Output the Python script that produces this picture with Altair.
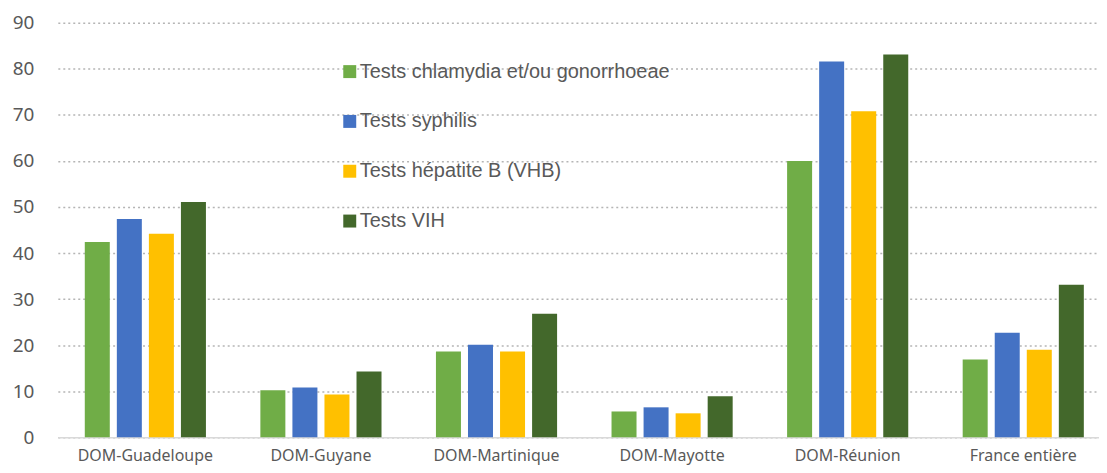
import altair as alt
import pandas as pd

categories = ["DOM-Guadeloupe", "DOM-Guyane", "DOM-Martinique", "DOM-Mayotte", "DOM-Réunion", "France entière"]
series = ["Tests chlamydia et/ou gonorrhoeae", "Tests syphilis", "Tests hépatite B (VHB)", "Tests VIH"]
chlamydia = [42.4, 10.2, 18.6, 5.6, 60.0, 16.9]
syphilis = [47.4, 10.8, 20.1, 6.5, 81.6, 22.7]
vhb = [44.2, 9.3, 18.6, 5.2, 70.8, 19.0]
vih = [51.1, 14.3, 26.8, 8.9, 83.1, 33.1]
colors = ["#70AD47", "#4472C4", "#FFC000", "#43682B"]
y_ticks = [0, 10, 20, 30, 40, 50, 60, 70, 80, 90]

rows = []
for s, vals in zip(series, [chlamydia, syphilis, vhb, vih]):
    for c, v in zip(categories, vals):
        rows.append({"cat": c, "serie": s, "val": v})
df = pd.DataFrame(rows)

chart = alt.Chart(df).mark_bar().encode(
    x=alt.X("cat:N", sort=categories,
            scale=alt.Scale(paddingInner=0.31, paddingOuter=0.12, align=0.64),
            axis=alt.Axis(title=None, labelAngle=0, ticks=False, grid=False,
                          domainColor="#d9d9d9", domainWidth=1.5,
                          labelFont="Noto Sans", labelFontSize=16, labelColor="#595959",
                          labelPadding=10)),
    xOffset=alt.XOffset("serie:N", sort=series,
                        scale=alt.Scale(paddingInner=0.22, paddingOuter=0)),
    y=alt.Y("val:Q", scale=alt.Scale(domain=[0, 90], nice=False),
            axis=alt.Axis(title=None, values=y_ticks, ticks=False, domain=False,
                          gridColor="#b5b5b5", gridDash=[2, 3], gridWidth=1.5,
                          labelFont="Noto Sans", labelFontSize=19, labelColor="#595959",
                          labelPadding=24)),
    color=alt.Color("serie:N", sort=series,
                    scale=alt.Scale(domain=series, range=colors),
                    legend=alt.Legend(title=None, orient="none", legendX=283, legendY=39,
                                      symbolType="square", symbolSize=169, symbolStrokeWidth=0,
                                      labelFont="Liberation Sans", labelFontSize=20,
                                      labelColor="#595959", rowPadding=30, labelOffset=0,
                                      labelLimit=0)),
).properties(
    width=1045, height=416,
    autosize=alt.AutoSizeParams(type="none"),
    padding={"left": 50, "top": 14, "right": 0, "bottom": 27},
).configure_view(stroke=None)

chart.save("out.html", embed_options={"renderer": "svg", "actions": False})
